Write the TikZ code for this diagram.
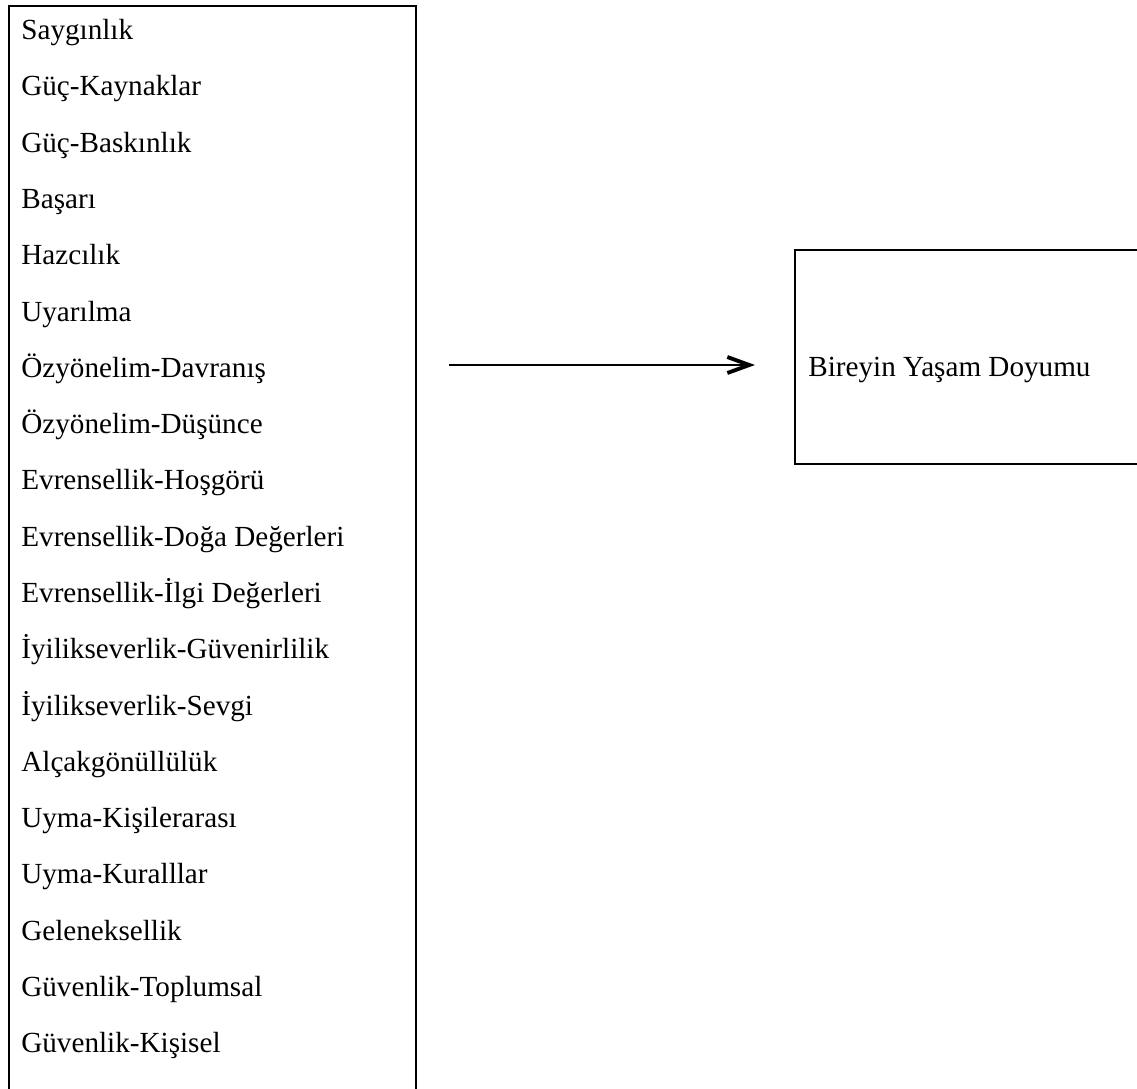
\documentclass[tikz,border=0pt]{standalone}
\usepackage{fontspec}
\setmainfont{Liberation Serif}
\usetikzlibrary{positioning, arrows.meta}

\begin{document}
\begin{tikzpicture}[x=0.02cm, y=-0.02cm,
          box/.style={draw, line width=1.4pt, inner sep=0pt},
          lbl/.style={anchor=base west, inner sep=0pt,
                      font=\fontsize{16.6}{20}\selectfont},
          arr/.style={-{Straight Barb[length=0.44cm, width=0.32cm, line width=2.2pt]},
                      line width=1.2pt}]
        \useasboundingbox (0,0) rectangle (1137,1089);
        % left box, open at the bottom of the page
        \node[box, anchor=north west, minimum width=8.14cm,
              minimum height=22.4cm] (values) at (8,5) {};
        \node[lbl] (v1)  at (21,  39) {Saygınlık};
        \node[lbl] (v2)  at (21,  95) {Güç-Kaynaklar};
        \node[lbl] (v3)  at (21, 152) {Güç-Baskınlık};
        \node[lbl] (v4)  at (21, 208) {Başarı};
        \node[lbl] (v5)  at (21, 264) {Hazcılık};
        \node[lbl] (v6)  at (21, 321) {Uyarılma};
        \node[lbl] (v7)  at (21, 377) {Özyönelim-Davranış};
        \node[lbl] (v8)  at (21, 433) {Özyönelim-Düşünce};
        \node[lbl] (v9)  at (21, 489) {Evrensellik-Hoşgörü};
        \node[lbl] (v10) at (21, 546) {Evrensellik-Doğa Değerleri};
        \node[lbl] (v11) at (21, 602) {Evrensellik-İlgi Değerleri};
        \node[lbl] (v12) at (21, 658) {İyilikseverlik-Güvenirlilik};
        \node[lbl] (v13) at (21, 715) {İyilikseverlik-Sevgi};
        \node[lbl] (v14) at (21, 771) {Alçakgönüllülük};
        \node[lbl] (v15) at (21, 827) {Uyma-Kişilerarası};
        \node[lbl] (v16) at (21, 883) {Uyma-Kuralllar};
        \node[lbl] (v17) at (21, 940) {Geleneksellik};
        \node[lbl] (v18) at (21, 996) {Güvenlik-Toplumsal};
        \node[lbl] (v19) at (21,1052) {Güvenlik-Kişisel};
        % right box, cut by the page edge
        \node[box, anchor=north west, minimum width=6.98cm,
              minimum height=4.28cm] (doyum) at (794,249) {};
        \node[lbl] (doyumtxt) at (808,376) {Bireyin Yaşam Doyumu};
        \coordinate (arrS) at (449,365);
        \coordinate (arrE) at (755,365);
        \draw[arr] (arrS) -- (arrE);
      \end{tikzpicture}
\end{document}
